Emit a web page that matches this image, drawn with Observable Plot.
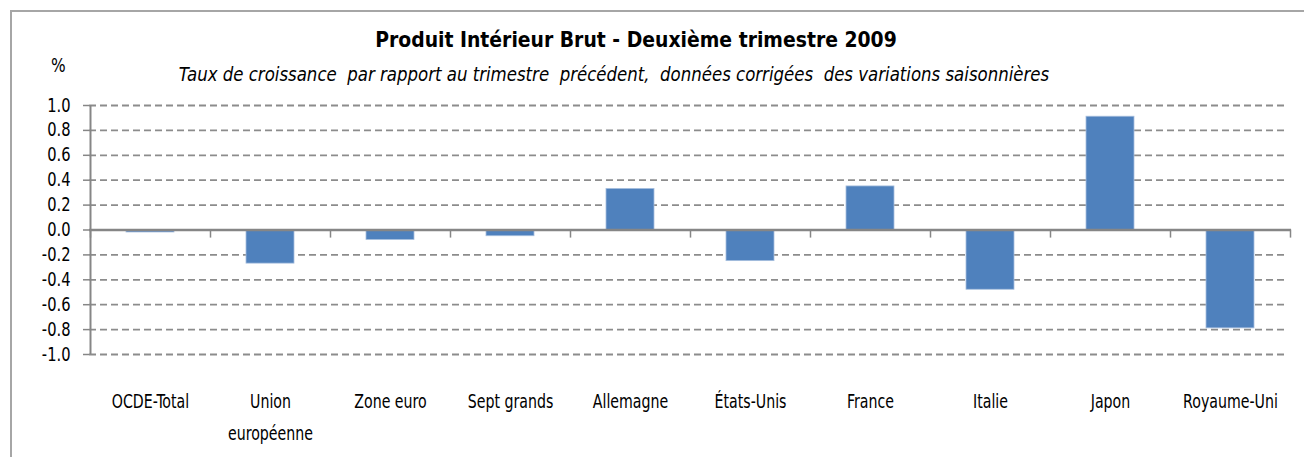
<!DOCTYPE html>
<html>
<head>
<meta charset="utf-8">
<script src="https://cdn.jsdelivr.net/npm/d3@7"></script>
<script src="https://cdn.jsdelivr.net/npm/@observablehq/plot@0.6"></script>
<style>
  html, body { margin: 0; padding: 0; background: #fff; }
  #wrap { position: relative; width: 1304px; height: 457px; overflow: hidden; font-family: 'DejaVu Sans Condensed', 'DejaVu Sans', sans-serif; color: #000; }
  #frame { position: absolute; left: 10px; top: 10px; width: 1400px; height: 600px; border: 2px solid #a6a6a6; box-sizing: border-box; }
  #title { position: absolute; left: 0; width: 1272px; top: 27px; text-align: center; font-weight: bold; font-size: 22px; line-height: 26px; white-space: pre; transform: scaleX(0.95); }
  #subtitle { position: absolute; left: 0; width: 1228px; top: 63px; text-align: center; font-style: italic; font-size: 19px; line-height: 22px; white-space: pre; transform: scaleX(0.97); }
  #pct { position: absolute; left: 51px; top: 54px; font-size: 19px; line-height: 22px; transform: scaleX(0.9); transform-origin: 0 0; }
  #chart { position: absolute; left: 0; top: 0; }
</style>
</head>
<body>
<div id="wrap">
  <div id="frame"></div>
  <div id="title">Produit Intérieur Brut - Deuxième trimestre 2009</div>
  <div id="subtitle">Taux de croissance  par rapport au trimestre  précédent,  données corrigées  des variations saisonnières</div>
  <div id="pct">%</div>
  <div id="chart"></div>
</div>
<script>
const categories = ["OCDE-Total", "Union européenne", "Zone euro", "Sept grands", "Allemagne", "États-Unis", "France", "Italie", "Japon", "Royaume-Uni"];
const tickLabels = ["OCDE-Total", "Union\neuropéenne", "Zone euro", "Sept grands", "Allemagne", "États-Unis", "France", "Italie", "Japon", "Royaume-Uni"];
const values = [-0.02, -0.27, -0.08, -0.05, 0.33, -0.25, 0.35, -0.48, 0.91, -0.79];
const yTicks = [-1.0, -0.8, -0.6, -0.4, -0.2, 0.0, 0.2, 0.4, 0.6, 0.8, 1.0];

const data = categories.map((c, i) => ({category: c, value: values[i]}));
const labelOf = new Map(categories.map((c, i) => [c, tickLabels[i]]));
const fontFamily = "'DejaVu Sans Condensed', 'DejaVu Sans', sans-serif";

const chart = Plot.plot({
  width: 1304,
  height: 457,
  marginLeft: 89,
  marginRight: 13,
  marginTop: 105,
  marginBottom: 103,
  style: {fontFamily, color: "#000", background: "transparent", overflow: "visible"},
  x: {domain: categories, paddingInner: 0.6, paddingOuter: 0.3},
  y: {domain: [-1, 1]},
  marks: [
    Plot.ruleY(yTicks.filter(v => v !== 0), {stroke: "#8c8c8c", strokeWidth: 1.8, strokeDasharray: "7,4", insetRight: 3}),
    Plot.barY(data, {x: "category", y: "value", fill: "#4F81BD", stroke: "#a7bfde", strokeWidth: 0.8}),
    Plot.ruleY([0], {stroke: "#868686", strokeWidth: 2.6}),
    Plot.ruleX([categories[0]], {x: d => d, dx: -60, y1: -1, y2: 1, stroke: "#868686", strokeWidth: 2}),
    Plot.ruleX(categories, {x: d => d, dx: -60, y1: 0, y2: -0.065, stroke: "#868686", strokeWidth: 1.5}),
    Plot.ruleX([categories[categories.length - 1]], {x: d => d, dx: 60, y1: 0, y2: -0.065, stroke: "#868686", strokeWidth: 1.5}),
    Plot.axisY({ticks: yTicks, tickFormat: d => d.toFixed(1), tickSize: 6, tickPadding: 13, fontSize: 19, stroke: "#868686", strokeWidth: 1.5, fill: "#000", label: null, ariaLabel: "y-axis"}),
    Plot.axisX({anchor: "bottom", tickSize: 0, tickPadding: 30.5, fontSize: 19, lineHeight: 1.68, tickFormat: d => labelOf.get(d), fill: "#000", label: null, ariaLabel: "x-axis"})
  ]
});

// narrow the glyphs horizontally, as in the reference's condensed lettering
function squeeze(selector, sx) {
  chart.querySelectorAll(selector).forEach(t => {
    const tr = t.getAttribute("transform");
    if (tr) t.setAttribute("transform", tr + ` scale(${sx},1)`);
  });
}
squeeze('g[aria-label="y-axis tick label"] text', 0.86);
squeeze('g[aria-label="x-axis tick label"] text', 0.83);

document.getElementById("chart").appendChild(chart);
</script>
</body>
</html>
